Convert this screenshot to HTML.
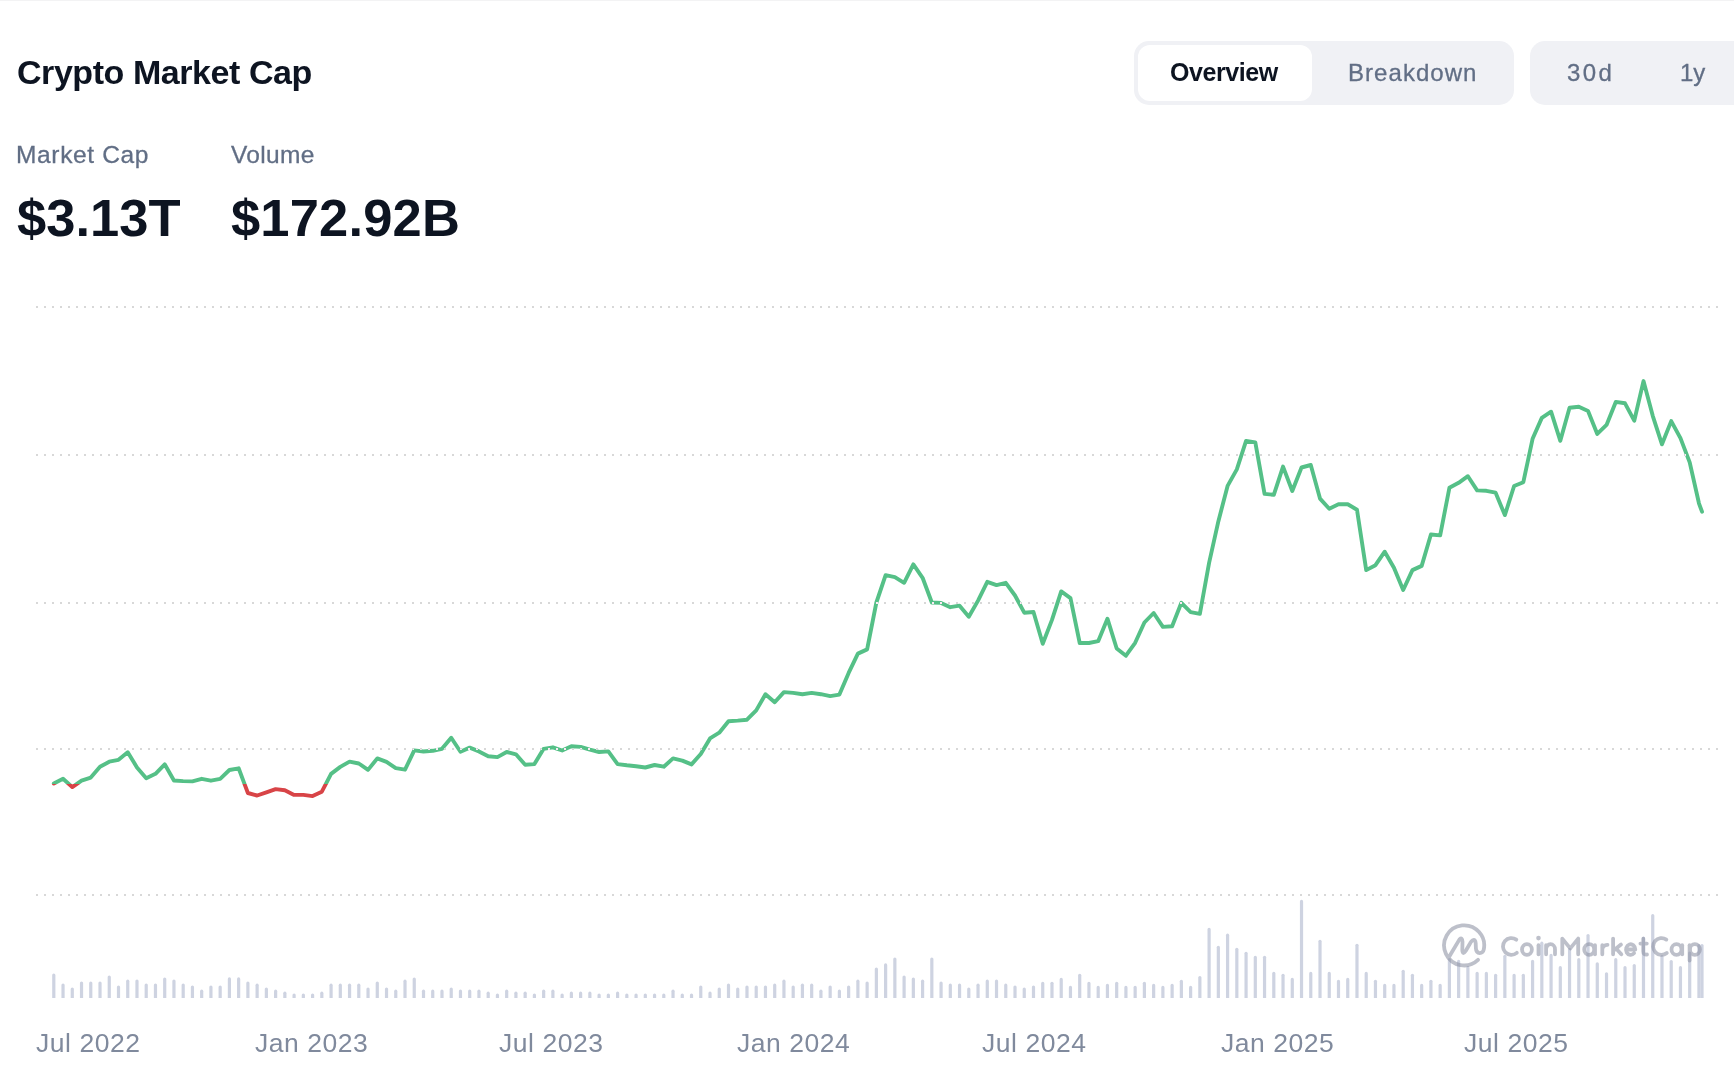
<!DOCTYPE html>
<html><head><meta charset="utf-8"><title>Crypto Market Cap</title>
<style>
html,body{margin:0;padding:0;background:#fff;}
body{width:1734px;height:1080px;position:relative;overflow:hidden;font-family:"Liberation Sans", sans-serif;}
.topline{position:absolute;left:0;top:0;width:1734px;height:1px;background:#f3f3f4;}
.t{position:absolute;white-space:nowrap;line-height:1;will-change:transform;}
.seg{position:absolute;background:#f0f1f5;top:41px;height:64px;}
.seg1{left:1134px;width:380px;border-radius:15px;}
.seg2{left:1530px;width:204px;border-radius:15px 0 0 15px;}
.pill{position:absolute;left:1138px;top:45px;width:174px;height:56px;border-radius:12px;background:#fff;}
.chart{position:absolute;left:0;top:0;}
</style></head><body>
<div class="topline"></div>
<div class="seg seg1"></div><div class="pill"></div>
<div class="seg seg2"></div>
<svg class="chart" width="1734" height="1080" viewBox="0 0 1734 1080">
<defs><clipPath id="up"><rect x="0" y="0" width="1734" height="784.05"/></clipPath><clipPath id="dn"><rect x="0" y="784.05" width="1734" height="400"/></clipPath></defs>
<line x1="36" y1="307" x2="1719" y2="307" stroke="#d8d8d8" stroke-width="2" stroke-dasharray="2 6"/>
<line x1="36" y1="455" x2="1719" y2="455" stroke="#d8d8d8" stroke-width="2" stroke-dasharray="2 6"/>
<line x1="36" y1="603" x2="1719" y2="603" stroke="#d8d8d8" stroke-width="2" stroke-dasharray="2 6"/>
<line x1="36" y1="749" x2="1719" y2="749" stroke="#d8d8d8" stroke-width="2" stroke-dasharray="2 6"/>
<line x1="36" y1="895" x2="1719" y2="895" stroke="#d8d8d8" stroke-width="2" stroke-dasharray="2 6"/>
<g fill="#ced3e1">
<path d="M52.20 998V975.10a1.6 1.6 0 0 1 1.6 -1.6a1.6 1.6 0 0 1 1.6 1.6V998z"/>
<path d="M61.44 998V985.00a1.6 1.6 0 0 1 1.6 -1.6a1.6 1.6 0 0 1 1.6 1.6V998z"/>
<path d="M70.68 998V989.00a1.6 1.6 0 0 1 1.6 -1.6a1.6 1.6 0 0 1 1.6 1.6V998z"/>
<path d="M79.93 998V983.10a1.6 1.6 0 0 1 1.6 -1.6a1.6 1.6 0 0 1 1.6 1.6V998z"/>
<path d="M89.17 998V983.10a1.6 1.6 0 0 1 1.6 -1.6a1.6 1.6 0 0 1 1.6 1.6V998z"/>
<path d="M98.41 998V983.10a1.6 1.6 0 0 1 1.6 -1.6a1.6 1.6 0 0 1 1.6 1.6V998z"/>
<path d="M107.65 998V977.00a1.6 1.6 0 0 1 1.6 -1.6a1.6 1.6 0 0 1 1.6 1.6V998z"/>
<path d="M116.90 998V987.10a1.6 1.6 0 0 1 1.6 -1.6a1.6 1.6 0 0 1 1.6 1.6V998z"/>
<path d="M126.14 998V981.20a1.6 1.6 0 0 1 1.6 -1.6a1.6 1.6 0 0 1 1.6 1.6V998z"/>
<path d="M135.38 998V981.00a1.6 1.6 0 0 1 1.6 -1.6a1.6 1.6 0 0 1 1.6 1.6V998z"/>
<path d="M144.62 998V985.00a1.6 1.6 0 0 1 1.6 -1.6a1.6 1.6 0 0 1 1.6 1.6V998z"/>
<path d="M153.87 998V985.00a1.6 1.6 0 0 1 1.6 -1.6a1.6 1.6 0 0 1 1.6 1.6V998z"/>
<path d="M163.11 998V979.10a1.6 1.6 0 0 1 1.6 -1.6a1.6 1.6 0 0 1 1.6 1.6V998z"/>
<path d="M172.35 998V981.00a1.6 1.6 0 0 1 1.6 -1.6a1.6 1.6 0 0 1 1.6 1.6V998z"/>
<path d="M181.59 998V985.00a1.6 1.6 0 0 1 1.6 -1.6a1.6 1.6 0 0 1 1.6 1.6V998z"/>
<path d="M190.84 998V987.10a1.6 1.6 0 0 1 1.6 -1.6a1.6 1.6 0 0 1 1.6 1.6V998z"/>
<path d="M200.08 998V991.20a1.6 1.6 0 0 1 1.6 -1.6a1.6 1.6 0 0 1 1.6 1.6V998z"/>
<path d="M209.32 998V987.10a1.6 1.6 0 0 1 1.6 -1.6a1.6 1.6 0 0 1 1.6 1.6V998z"/>
<path d="M218.56 998V987.10a1.6 1.6 0 0 1 1.6 -1.6a1.6 1.6 0 0 1 1.6 1.6V998z"/>
<path d="M227.81 998V978.90a1.6 1.6 0 0 1 1.6 -1.6a1.6 1.6 0 0 1 1.6 1.6V998z"/>
<path d="M237.05 998V978.90a1.6 1.6 0 0 1 1.6 -1.6a1.6 1.6 0 0 1 1.6 1.6V998z"/>
<path d="M246.29 998V983.10a1.6 1.6 0 0 1 1.6 -1.6a1.6 1.6 0 0 1 1.6 1.6V998z"/>
<path d="M255.53 998V985.20a1.6 1.6 0 0 1 1.6 -1.6a1.6 1.6 0 0 1 1.6 1.6V998z"/>
<path d="M264.78 998V989.00a1.6 1.6 0 0 1 1.6 -1.6a1.6 1.6 0 0 1 1.6 1.6V998z"/>
<path d="M274.02 998V991.20a1.6 1.6 0 0 1 1.6 -1.6a1.6 1.6 0 0 1 1.6 1.6V998z"/>
<path d="M283.26 998V993.20a1.6 1.6 0 0 1 1.6 -1.6a1.6 1.6 0 0 1 1.6 1.6V998z"/>
<path d="M292.50 998V995.10a1.6 1.6 0 0 1 1.6 -1.6a1.6 1.6 0 0 1 1.6 1.6V998z"/>
<path d="M301.74 998V995.10a1.6 1.6 0 0 1 1.6 -1.6a1.6 1.6 0 0 1 1.6 1.6V998z"/>
<path d="M310.99 998V995.10a1.6 1.6 0 0 1 1.6 -1.6a1.6 1.6 0 0 1 1.6 1.6V998z"/>
<path d="M320.23 998V993.20a1.6 1.6 0 0 1 1.6 -1.6a1.6 1.6 0 0 1 1.6 1.6V998z"/>
<path d="M329.47 998V985.20a1.6 1.6 0 0 1 1.6 -1.6a1.6 1.6 0 0 1 1.6 1.6V998z"/>
<path d="M338.71 998V985.20a1.6 1.6 0 0 1 1.6 -1.6a1.6 1.6 0 0 1 1.6 1.6V998z"/>
<path d="M347.96 998V985.20a1.6 1.6 0 0 1 1.6 -1.6a1.6 1.6 0 0 1 1.6 1.6V998z"/>
<path d="M357.20 998V985.20a1.6 1.6 0 0 1 1.6 -1.6a1.6 1.6 0 0 1 1.6 1.6V998z"/>
<path d="M366.44 998V989.00a1.6 1.6 0 0 1 1.6 -1.6a1.6 1.6 0 0 1 1.6 1.6V998z"/>
<path d="M375.68 998V983.10a1.6 1.6 0 0 1 1.6 -1.6a1.6 1.6 0 0 1 1.6 1.6V998z"/>
<path d="M384.93 998V989.00a1.6 1.6 0 0 1 1.6 -1.6a1.6 1.6 0 0 1 1.6 1.6V998z"/>
<path d="M394.17 998V991.20a1.6 1.6 0 0 1 1.6 -1.6a1.6 1.6 0 0 1 1.6 1.6V998z"/>
<path d="M403.41 998V981.20a1.6 1.6 0 0 1 1.6 -1.6a1.6 1.6 0 0 1 1.6 1.6V998z"/>
<path d="M412.65 998V979.10a1.6 1.6 0 0 1 1.6 -1.6a1.6 1.6 0 0 1 1.6 1.6V998z"/>
<path d="M421.90 998V991.20a1.6 1.6 0 0 1 1.6 -1.6a1.6 1.6 0 0 1 1.6 1.6V998z"/>
<path d="M431.14 998V991.20a1.6 1.6 0 0 1 1.6 -1.6a1.6 1.6 0 0 1 1.6 1.6V998z"/>
<path d="M440.38 998V991.20a1.6 1.6 0 0 1 1.6 -1.6a1.6 1.6 0 0 1 1.6 1.6V998z"/>
<path d="M449.62 998V989.00a1.6 1.6 0 0 1 1.6 -1.6a1.6 1.6 0 0 1 1.6 1.6V998z"/>
<path d="M458.87 998V991.20a1.6 1.6 0 0 1 1.6 -1.6a1.6 1.6 0 0 1 1.6 1.6V998z"/>
<path d="M468.11 998V991.20a1.6 1.6 0 0 1 1.6 -1.6a1.6 1.6 0 0 1 1.6 1.6V998z"/>
<path d="M477.35 998V991.20a1.6 1.6 0 0 1 1.6 -1.6a1.6 1.6 0 0 1 1.6 1.6V998z"/>
<path d="M486.59 998V993.20a1.6 1.6 0 0 1 1.6 -1.6a1.6 1.6 0 0 1 1.6 1.6V998z"/>
<path d="M495.84 998V995.10a1.6 1.6 0 0 1 1.6 -1.6a1.6 1.6 0 0 1 1.6 1.6V998z"/>
<path d="M505.08 998V991.20a1.6 1.6 0 0 1 1.6 -1.6a1.6 1.6 0 0 1 1.6 1.6V998z"/>
<path d="M514.32 998V993.20a1.6 1.6 0 0 1 1.6 -1.6a1.6 1.6 0 0 1 1.6 1.6V998z"/>
<path d="M523.56 998V993.20a1.6 1.6 0 0 1 1.6 -1.6a1.6 1.6 0 0 1 1.6 1.6V998z"/>
<path d="M532.80 998V995.10a1.6 1.6 0 0 1 1.6 -1.6a1.6 1.6 0 0 1 1.6 1.6V998z"/>
<path d="M542.05 998V991.20a1.6 1.6 0 0 1 1.6 -1.6a1.6 1.6 0 0 1 1.6 1.6V998z"/>
<path d="M551.29 998V991.20a1.6 1.6 0 0 1 1.6 -1.6a1.6 1.6 0 0 1 1.6 1.6V998z"/>
<path d="M560.53 998V995.10a1.6 1.6 0 0 1 1.6 -1.6a1.6 1.6 0 0 1 1.6 1.6V998z"/>
<path d="M569.77 998V993.20a1.6 1.6 0 0 1 1.6 -1.6a1.6 1.6 0 0 1 1.6 1.6V998z"/>
<path d="M579.02 998V993.20a1.6 1.6 0 0 1 1.6 -1.6a1.6 1.6 0 0 1 1.6 1.6V998z"/>
<path d="M588.26 998V993.20a1.6 1.6 0 0 1 1.6 -1.6a1.6 1.6 0 0 1 1.6 1.6V998z"/>
<path d="M597.50 998V995.10a1.6 1.6 0 0 1 1.6 -1.6a1.6 1.6 0 0 1 1.6 1.6V998z"/>
<path d="M606.74 998V995.10a1.6 1.6 0 0 1 1.6 -1.6a1.6 1.6 0 0 1 1.6 1.6V998z"/>
<path d="M615.99 998V993.20a1.6 1.6 0 0 1 1.6 -1.6a1.6 1.6 0 0 1 1.6 1.6V998z"/>
<path d="M625.23 998V995.10a1.6 1.6 0 0 1 1.6 -1.6a1.6 1.6 0 0 1 1.6 1.6V998z"/>
<path d="M634.47 998V995.10a1.6 1.6 0 0 1 1.6 -1.6a1.6 1.6 0 0 1 1.6 1.6V998z"/>
<path d="M643.71 998V995.10a1.6 1.6 0 0 1 1.6 -1.6a1.6 1.6 0 0 1 1.6 1.6V998z"/>
<path d="M652.96 998V995.10a1.6 1.6 0 0 1 1.6 -1.6a1.6 1.6 0 0 1 1.6 1.6V998z"/>
<path d="M662.20 998V995.10a1.6 1.6 0 0 1 1.6 -1.6a1.6 1.6 0 0 1 1.6 1.6V998z"/>
<path d="M671.44 998V991.20a1.6 1.6 0 0 1 1.6 -1.6a1.6 1.6 0 0 1 1.6 1.6V998z"/>
<path d="M680.68 998V995.10a1.6 1.6 0 0 1 1.6 -1.6a1.6 1.6 0 0 1 1.6 1.6V998z"/>
<path d="M689.93 998V995.10a1.6 1.6 0 0 1 1.6 -1.6a1.6 1.6 0 0 1 1.6 1.6V998z"/>
<path d="M699.17 998V987.10a1.6 1.6 0 0 1 1.6 -1.6a1.6 1.6 0 0 1 1.6 1.6V998z"/>
<path d="M708.41 998V993.20a1.6 1.6 0 0 1 1.6 -1.6a1.6 1.6 0 0 1 1.6 1.6V998z"/>
<path d="M717.65 998V989.00a1.6 1.6 0 0 1 1.6 -1.6a1.6 1.6 0 0 1 1.6 1.6V998z"/>
<path d="M726.90 998V985.20a1.6 1.6 0 0 1 1.6 -1.6a1.6 1.6 0 0 1 1.6 1.6V998z"/>
<path d="M736.14 998V989.00a1.6 1.6 0 0 1 1.6 -1.6a1.6 1.6 0 0 1 1.6 1.6V998z"/>
<path d="M745.38 998V987.10a1.6 1.6 0 0 1 1.6 -1.6a1.6 1.6 0 0 1 1.6 1.6V998z"/>
<path d="M754.62 998V987.10a1.6 1.6 0 0 1 1.6 -1.6a1.6 1.6 0 0 1 1.6 1.6V998z"/>
<path d="M763.86 998V987.10a1.6 1.6 0 0 1 1.6 -1.6a1.6 1.6 0 0 1 1.6 1.6V998z"/>
<path d="M773.11 998V985.20a1.6 1.6 0 0 1 1.6 -1.6a1.6 1.6 0 0 1 1.6 1.6V998z"/>
<path d="M782.35 998V981.20a1.6 1.6 0 0 1 1.6 -1.6a1.6 1.6 0 0 1 1.6 1.6V998z"/>
<path d="M791.59 998V987.10a1.6 1.6 0 0 1 1.6 -1.6a1.6 1.6 0 0 1 1.6 1.6V998z"/>
<path d="M800.83 998V985.20a1.6 1.6 0 0 1 1.6 -1.6a1.6 1.6 0 0 1 1.6 1.6V998z"/>
<path d="M810.08 998V985.20a1.6 1.6 0 0 1 1.6 -1.6a1.6 1.6 0 0 1 1.6 1.6V998z"/>
<path d="M819.32 998V991.20a1.6 1.6 0 0 1 1.6 -1.6a1.6 1.6 0 0 1 1.6 1.6V998z"/>
<path d="M828.56 998V987.10a1.6 1.6 0 0 1 1.6 -1.6a1.6 1.6 0 0 1 1.6 1.6V998z"/>
<path d="M837.80 998V991.20a1.6 1.6 0 0 1 1.6 -1.6a1.6 1.6 0 0 1 1.6 1.6V998z"/>
<path d="M847.05 998V987.10a1.6 1.6 0 0 1 1.6 -1.6a1.6 1.6 0 0 1 1.6 1.6V998z"/>
<path d="M856.29 998V981.20a1.6 1.6 0 0 1 1.6 -1.6a1.6 1.6 0 0 1 1.6 1.6V998z"/>
<path d="M865.53 998V983.10a1.6 1.6 0 0 1 1.6 -1.6a1.6 1.6 0 0 1 1.6 1.6V998z"/>
<path d="M874.77 998V969.00a1.6 1.6 0 0 1 1.6 -1.6a1.6 1.6 0 0 1 1.6 1.6V998z"/>
<path d="M884.02 998V964.90a1.6 1.6 0 0 1 1.6 -1.6a1.6 1.6 0 0 1 1.6 1.6V998z"/>
<path d="M893.26 998V959.00a1.6 1.6 0 0 1 1.6 -1.6a1.6 1.6 0 0 1 1.6 1.6V998z"/>
<path d="M902.50 998V977.00a1.6 1.6 0 0 1 1.6 -1.6a1.6 1.6 0 0 1 1.6 1.6V998z"/>
<path d="M911.74 998V979.10a1.6 1.6 0 0 1 1.6 -1.6a1.6 1.6 0 0 1 1.6 1.6V998z"/>
<path d="M920.99 998V981.20a1.6 1.6 0 0 1 1.6 -1.6a1.6 1.6 0 0 1 1.6 1.6V998z"/>
<path d="M930.23 998V959.00a1.6 1.6 0 0 1 1.6 -1.6a1.6 1.6 0 0 1 1.6 1.6V998z"/>
<path d="M939.47 998V983.10a1.6 1.6 0 0 1 1.6 -1.6a1.6 1.6 0 0 1 1.6 1.6V998z"/>
<path d="M948.71 998V985.20a1.6 1.6 0 0 1 1.6 -1.6a1.6 1.6 0 0 1 1.6 1.6V998z"/>
<path d="M957.96 998V985.20a1.6 1.6 0 0 1 1.6 -1.6a1.6 1.6 0 0 1 1.6 1.6V998z"/>
<path d="M967.20 998V989.00a1.6 1.6 0 0 1 1.6 -1.6a1.6 1.6 0 0 1 1.6 1.6V998z"/>
<path d="M976.44 998V985.20a1.6 1.6 0 0 1 1.6 -1.6a1.6 1.6 0 0 1 1.6 1.6V998z"/>
<path d="M985.68 998V981.20a1.6 1.6 0 0 1 1.6 -1.6a1.6 1.6 0 0 1 1.6 1.6V998z"/>
<path d="M994.92 998V981.20a1.6 1.6 0 0 1 1.6 -1.6a1.6 1.6 0 0 1 1.6 1.6V998z"/>
<path d="M1004.17 998V985.20a1.6 1.6 0 0 1 1.6 -1.6a1.6 1.6 0 0 1 1.6 1.6V998z"/>
<path d="M1013.41 998V987.10a1.6 1.6 0 0 1 1.6 -1.6a1.6 1.6 0 0 1 1.6 1.6V998z"/>
<path d="M1022.65 998V989.00a1.6 1.6 0 0 1 1.6 -1.6a1.6 1.6 0 0 1 1.6 1.6V998z"/>
<path d="M1031.89 998V987.10a1.6 1.6 0 0 1 1.6 -1.6a1.6 1.6 0 0 1 1.6 1.6V998z"/>
<path d="M1041.14 998V983.30a1.6 1.6 0 0 1 1.6 -1.6a1.6 1.6 0 0 1 1.6 1.6V998z"/>
<path d="M1050.38 998V983.30a1.6 1.6 0 0 1 1.6 -1.6a1.6 1.6 0 0 1 1.6 1.6V998z"/>
<path d="M1059.62 998V979.40a1.6 1.6 0 0 1 1.6 -1.6a1.6 1.6 0 0 1 1.6 1.6V998z"/>
<path d="M1068.86 998V987.40a1.6 1.6 0 0 1 1.6 -1.6a1.6 1.6 0 0 1 1.6 1.6V998z"/>
<path d="M1078.11 998V975.30a1.6 1.6 0 0 1 1.6 -1.6a1.6 1.6 0 0 1 1.6 1.6V998z"/>
<path d="M1087.35 998V983.30a1.6 1.6 0 0 1 1.6 -1.6a1.6 1.6 0 0 1 1.6 1.6V998z"/>
<path d="M1096.59 998V987.40a1.6 1.6 0 0 1 1.6 -1.6a1.6 1.6 0 0 1 1.6 1.6V998z"/>
<path d="M1105.83 998V985.40a1.6 1.6 0 0 1 1.6 -1.6a1.6 1.6 0 0 1 1.6 1.6V998z"/>
<path d="M1115.08 998V983.30a1.6 1.6 0 0 1 1.6 -1.6a1.6 1.6 0 0 1 1.6 1.6V998z"/>
<path d="M1124.32 998V987.40a1.6 1.6 0 0 1 1.6 -1.6a1.6 1.6 0 0 1 1.6 1.6V998z"/>
<path d="M1133.56 998V987.40a1.6 1.6 0 0 1 1.6 -1.6a1.6 1.6 0 0 1 1.6 1.6V998z"/>
<path d="M1142.80 998V983.30a1.6 1.6 0 0 1 1.6 -1.6a1.6 1.6 0 0 1 1.6 1.6V998z"/>
<path d="M1152.05 998V985.40a1.6 1.6 0 0 1 1.6 -1.6a1.6 1.6 0 0 1 1.6 1.6V998z"/>
<path d="M1161.29 998V987.40a1.6 1.6 0 0 1 1.6 -1.6a1.6 1.6 0 0 1 1.6 1.6V998z"/>
<path d="M1170.53 998V985.40a1.6 1.6 0 0 1 1.6 -1.6a1.6 1.6 0 0 1 1.6 1.6V998z"/>
<path d="M1179.77 998V981.30a1.6 1.6 0 0 1 1.6 -1.6a1.6 1.6 0 0 1 1.6 1.6V998z"/>
<path d="M1189.02 998V987.40a1.6 1.6 0 0 1 1.6 -1.6a1.6 1.6 0 0 1 1.6 1.6V998z"/>
<path d="M1198.26 998V977.50a1.6 1.6 0 0 1 1.6 -1.6a1.6 1.6 0 0 1 1.6 1.6V998z"/>
<path d="M1207.50 998V929.30a1.6 1.6 0 0 1 1.6 -1.6a1.6 1.6 0 0 1 1.6 1.6V998z"/>
<path d="M1216.74 998V947.30a1.6 1.6 0 0 1 1.6 -1.6a1.6 1.6 0 0 1 1.6 1.6V998z"/>
<path d="M1225.98 998V935.20a1.6 1.6 0 0 1 1.6 -1.6a1.6 1.6 0 0 1 1.6 1.6V998z"/>
<path d="M1235.23 998V949.30a1.6 1.6 0 0 1 1.6 -1.6a1.6 1.6 0 0 1 1.6 1.6V998z"/>
<path d="M1244.47 998V953.30a1.6 1.6 0 0 1 1.6 -1.6a1.6 1.6 0 0 1 1.6 1.6V998z"/>
<path d="M1253.71 998V957.30a1.6 1.6 0 0 1 1.6 -1.6a1.6 1.6 0 0 1 1.6 1.6V998z"/>
<path d="M1262.95 998V957.30a1.6 1.6 0 0 1 1.6 -1.6a1.6 1.6 0 0 1 1.6 1.6V998z"/>
<path d="M1272.20 998V973.40a1.6 1.6 0 0 1 1.6 -1.6a1.6 1.6 0 0 1 1.6 1.6V998z"/>
<path d="M1281.44 998V975.30a1.6 1.6 0 0 1 1.6 -1.6a1.6 1.6 0 0 1 1.6 1.6V998z"/>
<path d="M1290.68 998V979.40a1.6 1.6 0 0 1 1.6 -1.6a1.6 1.6 0 0 1 1.6 1.6V998z"/>
<path d="M1299.92 998V901.40a1.6 1.6 0 0 1 1.6 -1.6a1.6 1.6 0 0 1 1.6 1.6V998z"/>
<path d="M1309.17 998V973.40a1.6 1.6 0 0 1 1.6 -1.6a1.6 1.6 0 0 1 1.6 1.6V998z"/>
<path d="M1318.41 998V941.30a1.6 1.6 0 0 1 1.6 -1.6a1.6 1.6 0 0 1 1.6 1.6V998z"/>
<path d="M1327.65 998V973.40a1.6 1.6 0 0 1 1.6 -1.6a1.6 1.6 0 0 1 1.6 1.6V998z"/>
<path d="M1336.89 998V981.30a1.6 1.6 0 0 1 1.6 -1.6a1.6 1.6 0 0 1 1.6 1.6V998z"/>
<path d="M1346.14 998V979.40a1.6 1.6 0 0 1 1.6 -1.6a1.6 1.6 0 0 1 1.6 1.6V998z"/>
<path d="M1355.38 998V945.30a1.6 1.6 0 0 1 1.6 -1.6a1.6 1.6 0 0 1 1.6 1.6V998z"/>
<path d="M1364.62 998V973.40a1.6 1.6 0 0 1 1.6 -1.6a1.6 1.6 0 0 1 1.6 1.6V998z"/>
<path d="M1373.86 998V981.30a1.6 1.6 0 0 1 1.6 -1.6a1.6 1.6 0 0 1 1.6 1.6V998z"/>
<path d="M1383.11 998V985.40a1.6 1.6 0 0 1 1.6 -1.6a1.6 1.6 0 0 1 1.6 1.6V998z"/>
<path d="M1392.35 998V985.40a1.6 1.6 0 0 1 1.6 -1.6a1.6 1.6 0 0 1 1.6 1.6V998z"/>
<path d="M1401.59 998V971.30a1.6 1.6 0 0 1 1.6 -1.6a1.6 1.6 0 0 1 1.6 1.6V998z"/>
<path d="M1410.83 998V975.30a1.6 1.6 0 0 1 1.6 -1.6a1.6 1.6 0 0 1 1.6 1.6V998z"/>
<path d="M1420.08 998V985.40a1.6 1.6 0 0 1 1.6 -1.6a1.6 1.6 0 0 1 1.6 1.6V998z"/>
<path d="M1429.32 998V981.30a1.6 1.6 0 0 1 1.6 -1.6a1.6 1.6 0 0 1 1.6 1.6V998z"/>
<path d="M1438.56 998V985.40a1.6 1.6 0 0 1 1.6 -1.6a1.6 1.6 0 0 1 1.6 1.6V998z"/>
<path d="M1447.80 998V959.50a1.6 1.6 0 0 1 1.6 -1.6a1.6 1.6 0 0 1 1.6 1.6V998z"/>
<path d="M1457.04 998V961.40a1.6 1.6 0 0 1 1.6 -1.6a1.6 1.6 0 0 1 1.6 1.6V998z"/>
<path d="M1466.29 998V967.70a1.6 1.6 0 0 1 1.6 -1.6a1.6 1.6 0 0 1 1.6 1.6V998z"/>
<path d="M1475.53 998V973.40a1.6 1.6 0 0 1 1.6 -1.6a1.6 1.6 0 0 1 1.6 1.6V998z"/>
<path d="M1484.77 998V973.40a1.6 1.6 0 0 1 1.6 -1.6a1.6 1.6 0 0 1 1.6 1.6V998z"/>
<path d="M1494.01 998V975.30a1.6 1.6 0 0 1 1.6 -1.6a1.6 1.6 0 0 1 1.6 1.6V998z"/>
<path d="M1503.26 998V956.30a1.6 1.6 0 0 1 1.6 -1.6a1.6 1.6 0 0 1 1.6 1.6V998z"/>
<path d="M1512.50 998V975.30a1.6 1.6 0 0 1 1.6 -1.6a1.6 1.6 0 0 1 1.6 1.6V998z"/>
<path d="M1521.74 998V975.30a1.6 1.6 0 0 1 1.6 -1.6a1.6 1.6 0 0 1 1.6 1.6V998z"/>
<path d="M1530.98 998V961.40a1.6 1.6 0 0 1 1.6 -1.6a1.6 1.6 0 0 1 1.6 1.6V998z"/>
<path d="M1540.23 998V943.20a1.6 1.6 0 0 1 1.6 -1.6a1.6 1.6 0 0 1 1.6 1.6V998z"/>
<path d="M1549.47 998V955.40a1.6 1.6 0 0 1 1.6 -1.6a1.6 1.6 0 0 1 1.6 1.6V998z"/>
<path d="M1558.71 998V967.70a1.6 1.6 0 0 1 1.6 -1.6a1.6 1.6 0 0 1 1.6 1.6V998z"/>
<path d="M1567.95 998V949.40a1.6 1.6 0 0 1 1.6 -1.6a1.6 1.6 0 0 1 1.6 1.6V998z"/>
<path d="M1577.20 998V959.70a1.6 1.6 0 0 1 1.6 -1.6a1.6 1.6 0 0 1 1.6 1.6V998z"/>
<path d="M1586.44 998V935.50a1.6 1.6 0 0 1 1.6 -1.6a1.6 1.6 0 0 1 1.6 1.6V998z"/>
<path d="M1595.68 998V963.80a1.6 1.6 0 0 1 1.6 -1.6a1.6 1.6 0 0 1 1.6 1.6V998z"/>
<path d="M1604.92 998V973.80a1.6 1.6 0 0 1 1.6 -1.6a1.6 1.6 0 0 1 1.6 1.6V998z"/>
<path d="M1614.17 998V959.70a1.6 1.6 0 0 1 1.6 -1.6a1.6 1.6 0 0 1 1.6 1.6V998z"/>
<path d="M1623.41 998V967.70a1.6 1.6 0 0 1 1.6 -1.6a1.6 1.6 0 0 1 1.6 1.6V998z"/>
<path d="M1632.65 998V965.50a1.6 1.6 0 0 1 1.6 -1.6a1.6 1.6 0 0 1 1.6 1.6V998z"/>
<path d="M1641.89 998V938.20a1.6 1.6 0 0 1 1.6 -1.6a1.6 1.6 0 0 1 1.6 1.6V998z"/>
<path d="M1651.14 998V915.50a1.6 1.6 0 0 1 1.6 -1.6a1.6 1.6 0 0 1 1.6 1.6V998z"/>
<path d="M1660.38 998V956.60a1.6 1.6 0 0 1 1.6 -1.6a1.6 1.6 0 0 1 1.6 1.6V998z"/>
<path d="M1669.62 998V961.60a1.6 1.6 0 0 1 1.6 -1.6a1.6 1.6 0 0 1 1.6 1.6V998z"/>
<path d="M1678.86 998V967.70a1.6 1.6 0 0 1 1.6 -1.6a1.6 1.6 0 0 1 1.6 1.6V998z"/>
<path d="M1688.10 998V953.20a1.6 1.6 0 0 1 1.6 -1.6a1.6 1.6 0 0 1 1.6 1.6V998z"/>
<path d="M1697.35 998V945.50a1.6 1.6 0 0 1 1.6 -1.6a1.6 1.6 0 0 1 1.6 1.6V998z"/>
<path d="M1700.40 998V945.50a1.6 1.6 0 0 1 1.6 -1.6a1.6 1.6 0 0 1 1.6 1.6V998z"/>
</g>
<polyline clip-path="url(#up)" points="53.80,783.5 63.04,778.8 72.28,787.1 81.53,780.7 90.77,777.6 100.01,766.8 109.25,761.7 118.50,759.8 127.74,752.2 136.98,767.4 146.22,778.2 155.47,773.8 164.71,764.3 173.95,780.5 183.19,781.1 192.44,781.4 201.68,778.8 210.92,780.7 220.16,778.8 229.41,770.0 238.65,768.3 247.89,793.0 257.13,795.5 266.38,792.3 275.62,789.1 284.86,790.2 294.10,794.9 303.34,794.9 312.59,796.1 321.83,791.7 331.07,773.9 340.31,766.9 349.56,761.6 358.80,763.5 368.04,769.9 377.28,758.4 386.53,761.9 395.77,768.2 405.01,769.7 414.25,750.4 423.50,751.5 432.74,750.8 441.98,748.8 451.22,737.7 460.47,751.8 469.71,747.6 478.95,751.4 488.19,756.2 497.44,757.1 506.68,752.0 515.92,754.3 525.16,764.7 534.40,764.1 543.65,748.8 552.89,747.3 562.13,750.5 571.37,746.3 580.62,746.9 589.86,749.7 599.10,752.0 608.34,751.4 617.59,764.1 626.83,765.3 636.07,766.2 645.31,767.5 654.56,765.0 663.80,766.7 673.04,758.4 682.28,760.6 691.53,764.4 700.77,754.0 710.01,738.4 719.25,732.7 728.50,721.2 737.74,720.6 746.98,719.7 756.22,710.4 765.46,694.2 774.71,702.2 783.95,692.1 793.19,692.9 802.43,694.2 811.68,692.9 820.92,694.2 830.16,696.1 839.40,694.6 848.65,672.9 857.89,653.6 867.13,649.4 876.37,602.5 885.62,575.2 894.86,577.1 904.10,582.8 913.34,564.4 922.59,577.8 931.83,602.5 941.07,602.9 950.31,607.2 959.56,605.7 968.80,616.8 978.04,600.6 987.28,581.8 996.52,585.1 1005.77,582.8 1015.01,595.5 1024.25,612.7 1033.49,612.0 1042.74,643.8 1051.98,619.9 1061.22,591.4 1070.46,598.1 1079.71,643.0 1088.95,643.0 1098.19,641.2 1107.43,618.7 1116.68,648.5 1125.92,655.7 1135.16,642.8 1144.40,622.5 1153.65,613.0 1162.89,626.9 1172.13,626.3 1181.37,602.8 1190.62,612.1 1199.86,613.8 1209.10,562.8 1218.34,521.4 1227.58,485.9 1236.83,469.4 1246.07,440.9 1255.31,442.4 1264.55,493.9 1273.80,494.8 1283.04,466.6 1292.28,491.0 1301.52,467.5 1310.77,465.0 1320.01,498.6 1329.25,508.7 1338.49,504.3 1347.74,504.3 1356.98,509.7 1366.22,570.1 1375.46,565.2 1384.71,551.7 1393.95,567.8 1403.19,590.0 1412.43,570.1 1421.68,565.9 1430.92,534.5 1440.16,535.4 1449.40,487.8 1458.64,482.8 1467.89,476.2 1477.13,490.4 1486.37,490.8 1495.61,492.7 1504.86,515.1 1514.10,486.0 1523.34,482.2 1532.58,438.8 1541.83,417.9 1551.07,411.7 1560.31,440.8 1569.55,407.8 1578.80,406.8 1588.04,411.0 1597.28,433.9 1606.52,424.9 1615.77,401.9 1625.01,403.3 1634.25,420.7 1643.49,381.1 1652.74,415.8 1661.98,444.3 1671.22,421.1 1680.46,438.1 1689.70,462.4 1698.95,503.3 1702.00,511.7" fill="none" stroke="#55c087" stroke-width="3.9" stroke-linejoin="round" stroke-linecap="round"/>
<polyline clip-path="url(#dn)" points="53.80,783.5 63.04,778.8 72.28,787.1 81.53,780.7 90.77,777.6 100.01,766.8 109.25,761.7 118.50,759.8 127.74,752.2 136.98,767.4 146.22,778.2 155.47,773.8 164.71,764.3 173.95,780.5 183.19,781.1 192.44,781.4 201.68,778.8 210.92,780.7 220.16,778.8 229.41,770.0 238.65,768.3 247.89,793.0 257.13,795.5 266.38,792.3 275.62,789.1 284.86,790.2 294.10,794.9 303.34,794.9 312.59,796.1 321.83,791.7 331.07,773.9 340.31,766.9 349.56,761.6 358.80,763.5 368.04,769.9 377.28,758.4 386.53,761.9 395.77,768.2 405.01,769.7 414.25,750.4 423.50,751.5 432.74,750.8 441.98,748.8 451.22,737.7 460.47,751.8 469.71,747.6 478.95,751.4 488.19,756.2 497.44,757.1 506.68,752.0 515.92,754.3 525.16,764.7 534.40,764.1 543.65,748.8 552.89,747.3 562.13,750.5 571.37,746.3 580.62,746.9 589.86,749.7 599.10,752.0 608.34,751.4 617.59,764.1 626.83,765.3 636.07,766.2 645.31,767.5 654.56,765.0 663.80,766.7 673.04,758.4 682.28,760.6 691.53,764.4 700.77,754.0 710.01,738.4 719.25,732.7 728.50,721.2 737.74,720.6 746.98,719.7 756.22,710.4 765.46,694.2 774.71,702.2 783.95,692.1 793.19,692.9 802.43,694.2 811.68,692.9 820.92,694.2 830.16,696.1 839.40,694.6 848.65,672.9 857.89,653.6 867.13,649.4 876.37,602.5 885.62,575.2 894.86,577.1 904.10,582.8 913.34,564.4 922.59,577.8 931.83,602.5 941.07,602.9 950.31,607.2 959.56,605.7 968.80,616.8 978.04,600.6 987.28,581.8 996.52,585.1 1005.77,582.8 1015.01,595.5 1024.25,612.7 1033.49,612.0 1042.74,643.8 1051.98,619.9 1061.22,591.4 1070.46,598.1 1079.71,643.0 1088.95,643.0 1098.19,641.2 1107.43,618.7 1116.68,648.5 1125.92,655.7 1135.16,642.8 1144.40,622.5 1153.65,613.0 1162.89,626.9 1172.13,626.3 1181.37,602.8 1190.62,612.1 1199.86,613.8 1209.10,562.8 1218.34,521.4 1227.58,485.9 1236.83,469.4 1246.07,440.9 1255.31,442.4 1264.55,493.9 1273.80,494.8 1283.04,466.6 1292.28,491.0 1301.52,467.5 1310.77,465.0 1320.01,498.6 1329.25,508.7 1338.49,504.3 1347.74,504.3 1356.98,509.7 1366.22,570.1 1375.46,565.2 1384.71,551.7 1393.95,567.8 1403.19,590.0 1412.43,570.1 1421.68,565.9 1430.92,534.5 1440.16,535.4 1449.40,487.8 1458.64,482.8 1467.89,476.2 1477.13,490.4 1486.37,490.8 1495.61,492.7 1504.86,515.1 1514.10,486.0 1523.34,482.2 1532.58,438.8 1541.83,417.9 1551.07,411.7 1560.31,440.8 1569.55,407.8 1578.80,406.8 1588.04,411.0 1597.28,433.9 1606.52,424.9 1615.77,401.9 1625.01,403.3 1634.25,420.7 1643.49,381.1 1652.74,415.8 1661.98,444.3 1671.22,421.1 1680.46,438.1 1689.70,462.4 1698.95,503.3 1702.00,511.7" fill="none" stroke="#d84447" stroke-width="3.9" stroke-linejoin="round" stroke-linecap="round"/>
<mask id="lm" maskUnits="userSpaceOnUse" x="0" y="0" width="1734" height="1080"><polyline points="53.80,783.5 63.04,778.8 72.28,787.1 81.53,780.7 90.77,777.6 100.01,766.8 109.25,761.7 118.50,759.8 127.74,752.2 136.98,767.4 146.22,778.2 155.47,773.8 164.71,764.3 173.95,780.5 183.19,781.1 192.44,781.4 201.68,778.8 210.92,780.7 220.16,778.8 229.41,770.0 238.65,768.3 247.89,793.0 257.13,795.5 266.38,792.3 275.62,789.1 284.86,790.2 294.10,794.9 303.34,794.9 312.59,796.1 321.83,791.7 331.07,773.9 340.31,766.9 349.56,761.6 358.80,763.5 368.04,769.9 377.28,758.4 386.53,761.9 395.77,768.2 405.01,769.7 414.25,750.4 423.50,751.5 432.74,750.8 441.98,748.8 451.22,737.7 460.47,751.8 469.71,747.6 478.95,751.4 488.19,756.2 497.44,757.1 506.68,752.0 515.92,754.3 525.16,764.7 534.40,764.1 543.65,748.8 552.89,747.3 562.13,750.5 571.37,746.3 580.62,746.9 589.86,749.7 599.10,752.0 608.34,751.4 617.59,764.1 626.83,765.3 636.07,766.2 645.31,767.5 654.56,765.0 663.80,766.7 673.04,758.4 682.28,760.6 691.53,764.4 700.77,754.0 710.01,738.4 719.25,732.7 728.50,721.2 737.74,720.6 746.98,719.7 756.22,710.4 765.46,694.2 774.71,702.2 783.95,692.1 793.19,692.9 802.43,694.2 811.68,692.9 820.92,694.2 830.16,696.1 839.40,694.6 848.65,672.9 857.89,653.6 867.13,649.4 876.37,602.5 885.62,575.2 894.86,577.1 904.10,582.8 913.34,564.4 922.59,577.8 931.83,602.5 941.07,602.9 950.31,607.2 959.56,605.7 968.80,616.8 978.04,600.6 987.28,581.8 996.52,585.1 1005.77,582.8 1015.01,595.5 1024.25,612.7 1033.49,612.0 1042.74,643.8 1051.98,619.9 1061.22,591.4 1070.46,598.1 1079.71,643.0 1088.95,643.0 1098.19,641.2 1107.43,618.7 1116.68,648.5 1125.92,655.7 1135.16,642.8 1144.40,622.5 1153.65,613.0 1162.89,626.9 1172.13,626.3 1181.37,602.8 1190.62,612.1 1199.86,613.8 1209.10,562.8 1218.34,521.4 1227.58,485.9 1236.83,469.4 1246.07,440.9 1255.31,442.4 1264.55,493.9 1273.80,494.8 1283.04,466.6 1292.28,491.0 1301.52,467.5 1310.77,465.0 1320.01,498.6 1329.25,508.7 1338.49,504.3 1347.74,504.3 1356.98,509.7 1366.22,570.1 1375.46,565.2 1384.71,551.7 1393.95,567.8 1403.19,590.0 1412.43,570.1 1421.68,565.9 1430.92,534.5 1440.16,535.4 1449.40,487.8 1458.64,482.8 1467.89,476.2 1477.13,490.4 1486.37,490.8 1495.61,492.7 1504.86,515.1 1514.10,486.0 1523.34,482.2 1532.58,438.8 1541.83,417.9 1551.07,411.7 1560.31,440.8 1569.55,407.8 1578.80,406.8 1588.04,411.0 1597.28,433.9 1606.52,424.9 1615.77,401.9 1625.01,403.3 1634.25,420.7 1643.49,381.1 1652.74,415.8 1661.98,444.3 1671.22,421.1 1680.46,438.1 1689.70,462.4 1698.95,503.3 1702.00,511.7" fill="none" stroke="#fff" stroke-width="3.9" stroke-linejoin="round" stroke-linecap="round"/></mask>
<g mask="url(#lm)">
<line x1="36" y1="307" x2="1719" y2="307" stroke="#fbe9f6" stroke-width="2" stroke-dasharray="2 6"/>
<line x1="36" y1="455" x2="1719" y2="455" stroke="#fbe9f6" stroke-width="2" stroke-dasharray="2 6"/>
<line x1="36" y1="603" x2="1719" y2="603" stroke="#fbe9f6" stroke-width="2" stroke-dasharray="2 6"/>
<line x1="36" y1="749" x2="1719" y2="749" stroke="#fbe9f6" stroke-width="2" stroke-dasharray="2 6"/>
<line x1="36" y1="895" x2="1719" y2="895" stroke="#fbe9f6" stroke-width="2" stroke-dasharray="2 6"/>
</g>
<g opacity="0.57" fill="none" stroke="#8d91a3" stroke-linecap="round" stroke-linejoin="round">
<path stroke-width="3.8" transform="translate(0 0.35)" d="M1478.0 959.5 A20.05 20.05 0 1 1 1483.7 949.4 C1482.9 953.4 1476.3 954.6 1475.9 948.0 L1475.7 943.0 Q1475.5 938.4 1472.6 940.0 Q1471.2 940.9 1470.3 942.6 L1465.8 950.4 Q1462.6 955.3 1462.3 949.6 L1462.5 941.4 Q1462.3 936.4 1459.5 939.0 L1449.3 956.2"/>
<g stroke-width="3.8">
<path d="M1516.29 939.66A8.4 8.4 0 1 0 1516.81 952.85"/>
<ellipse cx="1526.93" cy="949.5" rx="4.95" ry="5.35"/>
<path d="M1538.5 945.2V954.3"/>
<path d="M1546.1 954.3V945.2M1546.1 949.2A4.45 5.0 0 0 1 1555.0 949.2V954.3"/>
<path d="M1562.3 954.3V938.6L1570.25 948.4L1578.2 938.6V954.3"/>
<ellipse cx="1589.2" cy="949.5" rx="5.0" ry="5.35"/>
<path d="M1595.0 945.2V954.3"/>
<path d="M1602.3 954.3V945.2M1602.3 949.6A4.8 4.9 0 0 1 1607.5 944.8"/>
<path d="M1613.1 938.6V954.3M1621.0 944.6L1613.9 950.3M1616.3 948.7L1621.3 954.3"/>
<path d="M1626.2 949.5H1635.3A4.65 5.35 0 1 0 1634.1 953.2"/>
<path d="M1643.3 938.6V951.4Q1643.3 954.9 1647.0 954.5M1640.4 943.6H1646.8"/>
<path d="M1666.32 939.58A8.4 8.4 0 1 0 1666.79 952.99"/>
<ellipse cx="1676.5" cy="949.5" rx="5.0" ry="5.35"/>
<path d="M1682.2 945.2V954.3"/>
<path d="M1689.6 945.2V960.5"/>
<ellipse cx="1694.9" cy="949.5" rx="5.0" ry="5.35"/>
</g>
<circle cx="1538.5" cy="938.1" r="2.3" fill="#8d91a3" stroke="none"/>
</g>
</svg>
<div class="t" id="title" style="left:17.20px;top:54.72px;font-size:34px;font-weight:700;color:#0d1421;letter-spacing:-0.440px;-webkit-text-stroke:0px #0d1421">Crypto Market Cap</div>
<div class="t" id="l1" style="left:16.10px;top:142.86px;font-size:24.5px;font-weight:400;color:#616e85;letter-spacing:0.650px;-webkit-text-stroke:0.3px #616e85">Market Cap</div>
<div class="t" id="l2" style="left:231.10px;top:142.86px;font-size:24.5px;font-weight:400;color:#616e85;letter-spacing:0.320px;-webkit-text-stroke:0.3px #616e85">Volume</div>
<div class="t" id="v1" style="left:17.20px;top:191.56px;font-size:52.5px;font-weight:700;color:#0d1421;letter-spacing:0.000px;-webkit-text-stroke:0px #0d1421">$3.13T</div>
<div class="t" id="v2" style="left:231.10px;top:191.56px;font-size:52.5px;font-weight:700;color:#0d1421;letter-spacing:0.170px;-webkit-text-stroke:0px #0d1421">$172.92B</div>
<div class="t" id="t1" style="left:1169.70px;top:60.24px;font-size:25px;font-weight:700;color:#0d1421;letter-spacing:-0.420px;-webkit-text-stroke:0px #0d1421">Overview</div>
<div class="t" id="t2" style="left:1348.20px;top:61.08px;font-size:24px;font-weight:400;color:#616e85;letter-spacing:1.050px;-webkit-text-stroke:0.3px #616e85">Breakdown</div>
<div class="t" id="t3" style="left:1566.70px;top:61.08px;font-size:24px;font-weight:400;color:#616e85;letter-spacing:2.450px;-webkit-text-stroke:0.3px #616e85">30d</div>
<div class="t" id="t4" style="left:1679.80px;top:61.08px;font-size:24px;font-weight:400;color:#616e85;letter-spacing:0.000px;-webkit-text-stroke:0.3px #616e85">1y</div>
<div class="t" id="a1" style="left:36.20px;top:1030.27px;font-size:26.5px;font-weight:400;color:#808a9d;letter-spacing:0.560px;-webkit-text-stroke:0px #808a9d">Jul 2022</div>
<div class="t" id="a2" style="left:255.00px;top:1030.27px;font-size:26.5px;font-weight:400;color:#808a9d;letter-spacing:0.540px;-webkit-text-stroke:0px #808a9d">Jan 2023</div>
<div class="t" id="a3" style="left:498.60px;top:1030.27px;font-size:26.5px;font-weight:400;color:#808a9d;letter-spacing:0.560px;-webkit-text-stroke:0px #808a9d">Jul 2023</div>
<div class="t" id="a4" style="left:737.20px;top:1030.27px;font-size:26.5px;font-weight:400;color:#808a9d;letter-spacing:0.540px;-webkit-text-stroke:0px #808a9d">Jan 2024</div>
<div class="t" id="a5" style="left:982.20px;top:1030.27px;font-size:26.5px;font-weight:400;color:#808a9d;letter-spacing:0.560px;-webkit-text-stroke:0px #808a9d">Jul 2024</div>
<div class="t" id="a6" style="left:1220.60px;top:1030.27px;font-size:26.5px;font-weight:400;color:#808a9d;letter-spacing:0.540px;-webkit-text-stroke:0px #808a9d">Jan 2025</div>
<div class="t" id="a7" style="left:1464.20px;top:1030.27px;font-size:26.5px;font-weight:400;color:#808a9d;letter-spacing:0.560px;-webkit-text-stroke:0px #808a9d">Jul 2025</div>
</body></html>
